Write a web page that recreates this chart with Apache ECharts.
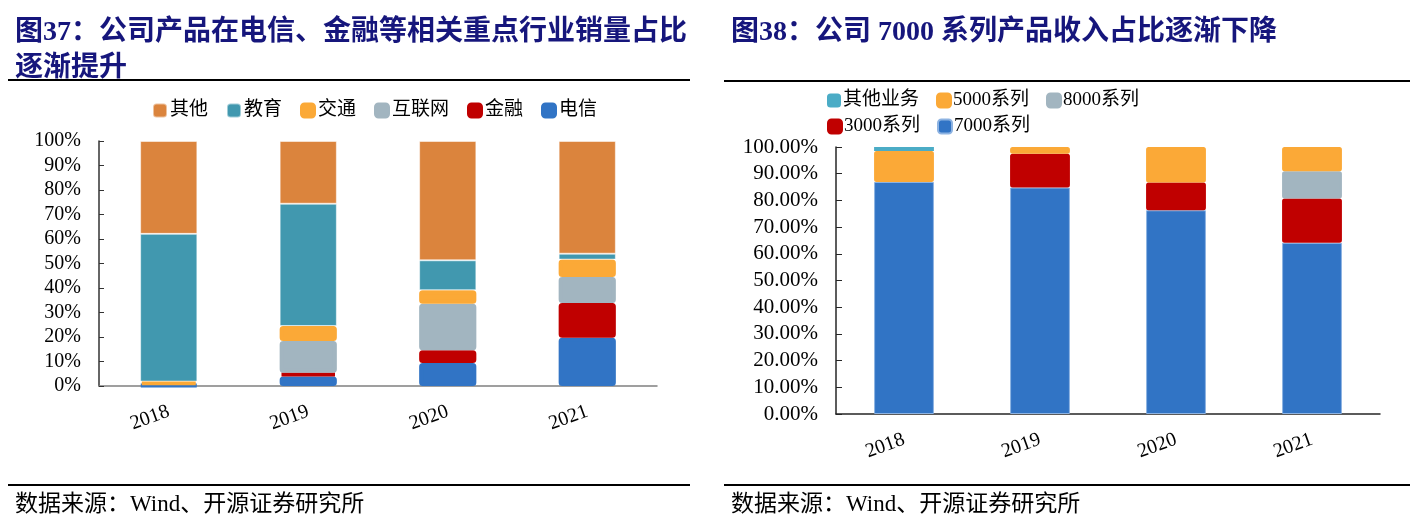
<!DOCTYPE html>
<html>
<head>
<meta charset="utf-8">
<script src="https://cdn.jsdelivr.net/npm/echarts@6/dist/echarts.min.js"></script>
<style>
html,body{margin:0;padding:0;background:#fff;}
#c{width:1424px;height:523px;}
</style>
</head>
<body>
<div id="c"></div>
<script>
// ---------- data ----------
const years = ['2018', '2019', '2020', '2021'];

// Figure 37: sales share by industry (%)
const telecom   = [0.5, 3.9, 9.4, 19.7];
const finance   = [0, 1.5, 5.2, 14.2];
const internet  = [0, 13.0, 19.0, 10.6];
const transport = [1.3, 6.1, 5.5, 7.1];
const education = [60.3, 49.9, 12.2, 2.4];
const otherInd  = [37.9, 25.6, 48.7, 46.0];
const leftLegend = ['其他', '教育', '交通', '互联网', '金融', '电信'];

// Figure 38: revenue share by product series (%)
const s7000  = [86.9, 84.8, 76.3, 64.1];
const s3000  = [0, 12.7, 10.4, 16.6];
const s8000  = [0, 0, 0, 10.2];
const s5000  = [11.6, 2.5, 13.3, 9.1];
const sOther = [1.5, 0, 0, 0];
const rightLegendRow1 = ['其他业务', '5000系列', '8000系列'];
const rightLegendRow2 = ['3000系列', '7000系列'];

// ---------- styles ----------
const C = {
  telecom: '#3174C5', finance: '#C00000', internet: '#A2B5C0',
  transport: '#FBA937', education: '#4198AF', other: '#DB843D',
  otherBiz: '#4BACC6'
};
const SERIF = '"Liberation Serif", "Noto Sans CJK SC", serif';
const TITLE_COLOR = '#16167C';

function nz(arr) { return arr.map(v => (v === 0 ? null : v)); }

function leftSeries(name, data, color, rim) {
  return {
    name: name, type: 'bar', stack: 'L', xAxisIndex: 0, yAxisIndex: 0,
    barWidth: '41%', data: nz(data),
    itemStyle: rim
      ? { color: color, borderColor: color, borderWidth: 4, borderRadius: 1.5 }
      : { color: color, borderColor: 'rgba(255,255,255,0.5)', borderWidth: 1 }
  };
}
function rightSeries(name, data, color, bw, bc) {
  return {
    name: name, type: 'bar', stack: 'R', xAxisIndex: 1, yAxisIndex: 1,
    barWidth: '44%', data: nz(data),
    itemStyle: { color: color, borderColor: bc || color, borderWidth: bw, borderRadius: bw > 1 ? 1.5 : 0 }
  };
}

const xAxisCommon = (lineColor) => ({
  type: 'category', data: years,
  axisLine: { lineStyle: { color: lineColor, width: 1.5 } },
  axisTick: { inside: true, length: 7, lineStyle: { color: lineColor, width: 1.5 } },
  axisLabel: { rotate: 20, margin: 25, fontSize: 20, fontFamily: SERIF, color: '#000' },
  splitLine: { show: false }
});

const chart = echarts.init(document.getElementById('c'), null, { renderer: 'canvas' });

chart.setOption({
  animation: false,
  backgroundColor: '#fff',
  title: [
    {
      text: '图37：公司产品在电信、金融等相关重点行业销量占比\n逐渐提升',
      left: 10, top: 10,
      textStyle: { fontSize: 28, fontWeight: 'bold', color: TITLE_COLOR, fontFamily: SERIF, lineHeight: 36 }
    },
    {
      text: '图38：公司 7000 系列产品收入占比逐渐下降',
      left: 726, top: 10,
      textStyle: { fontSize: 28, fontWeight: 'bold', color: TITLE_COLOR, fontFamily: SERIF, lineHeight: 36 }
    },
    {
      text: '数据来源：Wind、开源证券研究所',
      left: 10, top: 488,
      textStyle: { fontSize: 23, fontWeight: 'normal', color: '#000', fontFamily: SERIF }
    },
    {
      text: '数据来源：Wind、开源证券研究所',
      left: 726, top: 488,
      textStyle: { fontSize: 23, fontWeight: 'normal', color: '#000', fontFamily: SERIF }
    }
  ],
  legend: [
    {
      data: leftLegend, left: 147, top: 96, icon: 'roundRect',
      itemWidth: 14, itemHeight: 14, itemGap: 18,
      textStyle: { fontSize: 19, fontFamily: SERIF, color: '#000', padding: [0, 0, 0, -2] }
    },
    {
      data: rightLegendRow1, left: 822, top: 86, icon: 'roundRect',
      itemWidth: 14, itemHeight: 14, itemGap: 17,
      textStyle: { fontSize: 19, fontFamily: SERIF, color: '#000', padding: [0, 0, 0, -3] }
    },
    {
      data: rightLegendRow2, left: 822, top: 112, icon: 'roundRect',
      itemWidth: 14, itemHeight: 14, itemGap: 17,
      textStyle: { fontSize: 19, fontFamily: SERIF, color: '#000', padding: [0, 0, 0, -3] }
    }
  ],
  grid: [
    { left: 99, top: 141, width: 558, height: 245 },
    { left: 836, top: 147, width: 544, height: 267 }
  ],
  xAxis: [
    Object.assign(xAxisCommon('#808080'), { gridIndex: 0 }),
    Object.assign(xAxisCommon('#262626'), { gridIndex: 1 })
  ],
  yAxis: [
    {
      type: 'value', gridIndex: 0, min: 0, max: 100, interval: 10,
      axisLine: { show: true, lineStyle: { color: '#333', width: 1.5 } },
      axisTick: { show: true, inside: true, length: 5, lineStyle: { color: '#333' } },
      splitLine: { show: false },
      axisLabel: { margin: 18, fontSize: 20, fontFamily: SERIF, color: '#000', formatter: v => v + '%' }
    },
    {
      type: 'value', gridIndex: 1, min: 0, max: 100, interval: 10,
      axisLine: { show: true, lineStyle: { color: '#262626', width: 1.5 } },
      axisTick: { show: true, inside: true, length: 6, lineStyle: { color: '#262626' } },
      splitLine: { show: false },
      axisLabel: { margin: 18, fontSize: 21, fontFamily: SERIF, color: '#000', formatter: v => v.toFixed(2) + '%' }
    }
  ],
  series: [
    leftSeries('电信', telecom, C.telecom, true),
    leftSeries('金融', finance, C.finance, true),
    leftSeries('互联网', internet, C.internet, true),
    leftSeries('交通', transport, C.transport, true),
    leftSeries('教育', education, C.education, false),
    leftSeries('其他', otherInd, C.other, false),
    rightSeries('7000系列', s7000, C.telecom, 1, '#8DB3E2'),
    rightSeries('3000系列', s3000, C.finance, 2),
    rightSeries('8000系列', s8000, C.internet, 2),
    rightSeries('5000系列', s5000, C.transport, 2),
    rightSeries('其他业务', sOther, C.otherBiz, 0)
  ],
  graphic: [
    { type: 'line', shape: { x1: 8, y1: 80, x2: 690, y2: 80 }, style: { stroke: '#000', lineWidth: 2 } },
    { type: 'line', shape: { x1: 724, y1: 81, x2: 1410, y2: 81 }, style: { stroke: '#000', lineWidth: 2 } },
    { type: 'line', shape: { x1: 8, y1: 485, x2: 690, y2: 485 }, style: { stroke: '#000', lineWidth: 2 } },
    { type: 'line', shape: { x1: 724, y1: 485, x2: 1410, y2: 485 }, style: { stroke: '#000', lineWidth: 2 } }
  ]
});
</script>
</body>
</html>
